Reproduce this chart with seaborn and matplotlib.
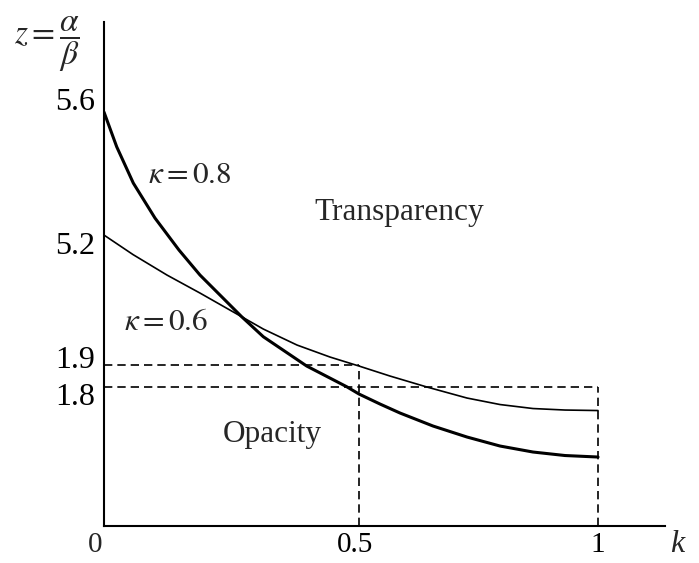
"""
Schematic z = alpha/beta vs k chart: two decreasing curves for kappa = 0.6 / 0.8,
with the transparency / opacity regions split by dashed guide lines.
"""
import matplotlib

matplotlib.use("Agg")
import matplotlib.pyplot as plt
import pandas as pd
import seaborn as sns

# The vertical axis is schematic (labels are not to scale), so curve heights
# are kept in plot units and the z labels are attached to positions below.
k_08 = [0.0, 0.0257, 0.0593, 0.1032, 0.1518, 0.1943, 0.2787, 0.3225, 0.4103,
        0.4913, 0.5162, 0.5587, 0.5992, 0.6660, 0.7348, 0.8016, 0.8684, 0.9332, 1.0]
z_08 = [414, 379.3, 343, 308, 276, 251, 209.3, 189.3, 160,
        139.3, 132, 122, 113, 100, 89, 80, 74, 70.5, 69]

k_06 = [0.0, 0.0587, 0.1275, 0.1943, 0.2787, 0.3225, 0.3907, 0.4575, 0.5162,
        0.5789, 0.6538, 0.7348, 0.8016, 0.8684, 0.9332, 1.0]
z_06 = [291, 271.5, 251, 233, 209.3, 197, 181, 169, 160,
        150, 139, 128, 121.5, 117.5, 116, 115.5]

# guide lines: z = 1.9 at k = 0.5, z = 1.8 at k = 1
guide_k = [0.516, 1.0]
guide_z = [161, 139]

y_tick_pos = [427, 283, 169, 132]
y_tick_labels = ["5.6", "5.2", "1.9", "1.8"]
x_tick_pos = [0.508, 1.0]
x_tick_labels = ["0.5", "1"]

sns.set_style("white")
plt.rcParams["font.family"] = ["Liberation Serif", "DejaVu Serif"]
plt.rcParams["mathtext.fontset"] = "stix"

df = pd.concat([
    pd.DataFrame({"k": k_08, "z": z_08, "kappa": "0.8"}),
    pd.DataFrame({"k": k_06, "z": z_06, "kappa": "0.6"}),
])

fig = plt.figure(figsize=(6.99, 5.63), dpi=100)
ax = fig.add_axes([0.1488, 0.0657, 0.8026, 0.895])

sns.lineplot(data=df[df.kappa == "0.8"], x="k", y="z", color="black", lw=2.2,
             ax=ax, legend=False, sort=False, solid_joinstyle="round")
sns.lineplot(data=df[df.kappa == "0.6"], x="k", y="z", color="black", lw=1.2,
             ax=ax, legend=False, sort=False, solid_joinstyle="round")

dash = dict(color="black", lw=1.2, dashes=(5, 3))
for gk, gz in zip(guide_k, guide_z):
    ax.plot([0, gk], [gz, gz], **dash)
    ax.plot([gk, gk], [0, gz], **dash)

ax.set_xlim(0, 1.1356)
ax.set_ylim(0, 504)
ax.set_xlabel("")
ax.set_ylabel("")
sns.despine(ax=ax)
for side in ("left", "bottom"):
    ax.spines[side].set_linewidth(1.5)
    ax.spines[side].set_color("black")

ax.set_xticks(x_tick_pos, x_tick_labels)
ax.set_yticks(y_tick_pos, y_tick_labels)
ax.tick_params(length=0, colors="black")
ax.tick_params(axis="y", pad=6.5, labelsize=23)
ax.tick_params(axis="x", pad=4, labelsize=21)

ax.text(-0.016, -0.038, "0", transform=ax.transAxes, fontsize=21,
        ha="center", va="center")
ax.text(1.021, -0.036, "k", transform=ax.transAxes, fontsize=23,
        ha="center", va="center", style="italic")
ax.text(0.173, 342.7, r"$\kappa = 0.8$", fontsize=22.5, ha="center", va="baseline")
ax.text(0.1255, 196, r"$\kappa = 0.6$", fontsize=22.5, ha="center", va="baseline")
ax.text(0.597, 306, "Transparency", fontsize=22.5, ha="center", va="baseline")
ax.text(0.341, 84.3, "Opacity", fontsize=22.5, ha="center", va="baseline")
fig.text(0.0672, 0.9218, r"$z=\dfrac{\alpha}{\beta}$", fontsize=24,
         ha="center", va="center")

fig.savefig("out.png", dpi=100)
